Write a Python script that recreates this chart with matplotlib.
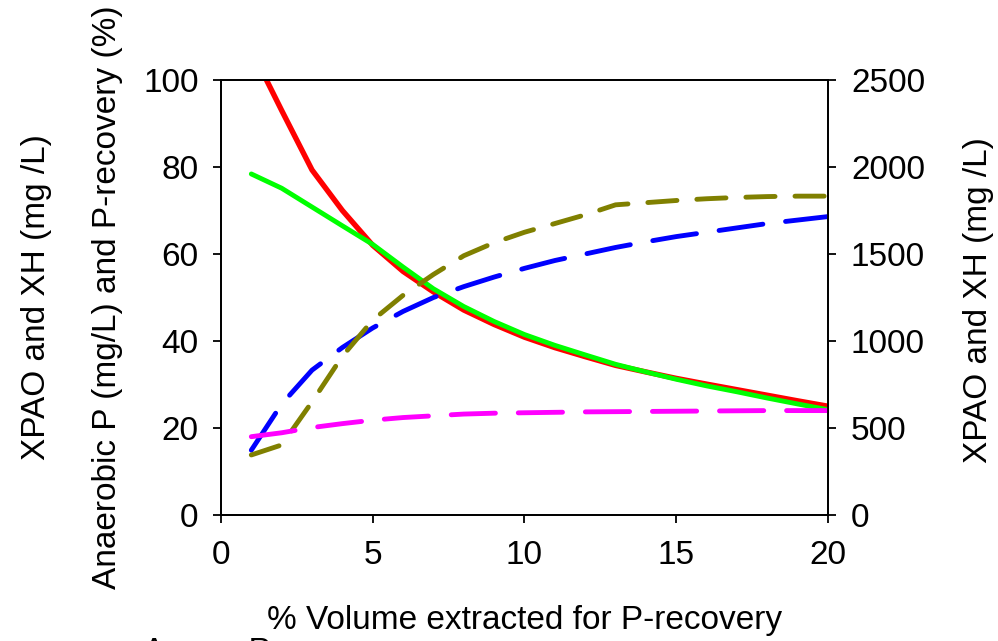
import matplotlib
matplotlib.use('Agg')
import matplotlib.pyplot as plt

plt.rcParams['font.family'] = ['Liberation Sans', 'DejaVu Sans']

# ---- data ----
x_vol = list(range(1, 21))

# right axis (mg/L)
xpao = [2675, 2325, 1983, 1750, 1550, 1400, 1282, 1178, 1095, 1022,
        962, 910, 860, 822, 785, 752, 720, 688, 656, 625]        # red
xh = [1960, 1878, 1770, 1662, 1555, 1425, 1300, 1198, 1112, 1037,
      975, 920, 866, 822, 780, 742, 708, 672, 638, 605]           # green

# left axis
p_recovery = [14.9, 25.5, 33.3, 38.5, 43.0, 46.8, 50.0, 52.5, 54.7, 56.7,
              58.5, 60.0, 61.5, 62.8, 64.0, 65.0, 66.0, 67.0, 67.8, 68.6]   # blue
p_recovery2 = [13.8, 16.1, 26.0, 36.5, 44.8, 50.5, 55.3, 59.6, 62.6, 65.0,
               67.0, 69.0, 71.3, 71.8, 72.3, 72.7, 73.0, 73.2, 73.3, 73.3]  # olive
anaerobic_p = [18.0, 18.9, 20.1, 21.0, 21.8, 22.4, 22.8, 23.2, 23.4, 23.5,
               23.6, 23.7, 23.75, 23.8, 23.85, 23.9, 23.95, 24.0, 24.0, 24.0]  # magenta

x_ticks = [0, 5, 10, 15, 20]
left_ticks = [0, 20, 40, 60, 80, 100]
right_ticks = [0, 500, 1000, 1500, 2000, 2500]

FS = 24

fig = plt.figure(figsize=(9.98, 6.41), dpi=100)
ax = fig.add_axes([0.2214, 0.1966, 0.6083, 0.6786])
ax2 = ax.twinx()
ax.set_zorder(ax2.get_zorder() + 1)
ax.patch.set_visible(False)

ax2.plot(x_vol, xpao, color='#ff0000', lw=3.9, solid_capstyle='round')
ax2.plot(x_vol, xh, color='#00ff00', lw=3.5, solid_capstyle='round')

ax.plot(x_vol, p_recovery, color='#0000ff', lw=3.5, dashes=(9.1, 4.7),
        dash_capstyle='round')
ax.plot(x_vol, p_recovery2, color='#808000', lw=3.5, dashes=(6.0, 4.1),
        dash_capstyle='round')
ax.plot(x_vol, anaerobic_p, color='#ff00ff', lw=3.5, dashes=(9.1, 4.7),
        dash_capstyle='round')

ax.set_xlim(0, 20)
ax.set_ylim(0, 100)
ax2.set_ylim(0, 2500)
ax.set_xticks(x_ticks)
ax.set_yticks(left_ticks)
ax2.set_yticks(right_ticks)

for a in (ax, ax2):
    for s in a.spines.values():
        s.set_linewidth(1.3)
        s.set_color('black')
ax.tick_params(axis='both', direction='out', length=6, width=1.3,
               labelsize=FS, pad=10, colors='black')
ax.tick_params(axis='x', pad=12)
ax2.tick_params(axis='y', direction='out', length=6, width=1.3,
                labelsize=FS, pad=10.5, colors='black')

fig.text(37 / 998, 1 - 297 / 641, 'XPAO and XH (mg /L)', rotation=90,
         ha='center', va='center', fontsize=FS)
fig.text(108 / 998, 1 - 297 / 641, 'Anaerobic P (mg/L) and P-recovery (%)',
         rotation=90, ha='center', va='center', fontsize=FS)
fig.text(978 / 998, 1 - 300 / 641, 'XPAO and XH (mg /L)', rotation=90,
         ha='center', va='center', fontsize=FS)
fig.text(525 / 998, 1 - 620 / 641, '% Volume extracted for P-recovery',
         ha='center', va='center', fontsize=FS)
fig.text(143 / 998, 1 - 661 / 641, 'Anaer. P', ha='left', va='baseline',
         fontsize=FS)

fig.savefig('out.png', dpi=100)
